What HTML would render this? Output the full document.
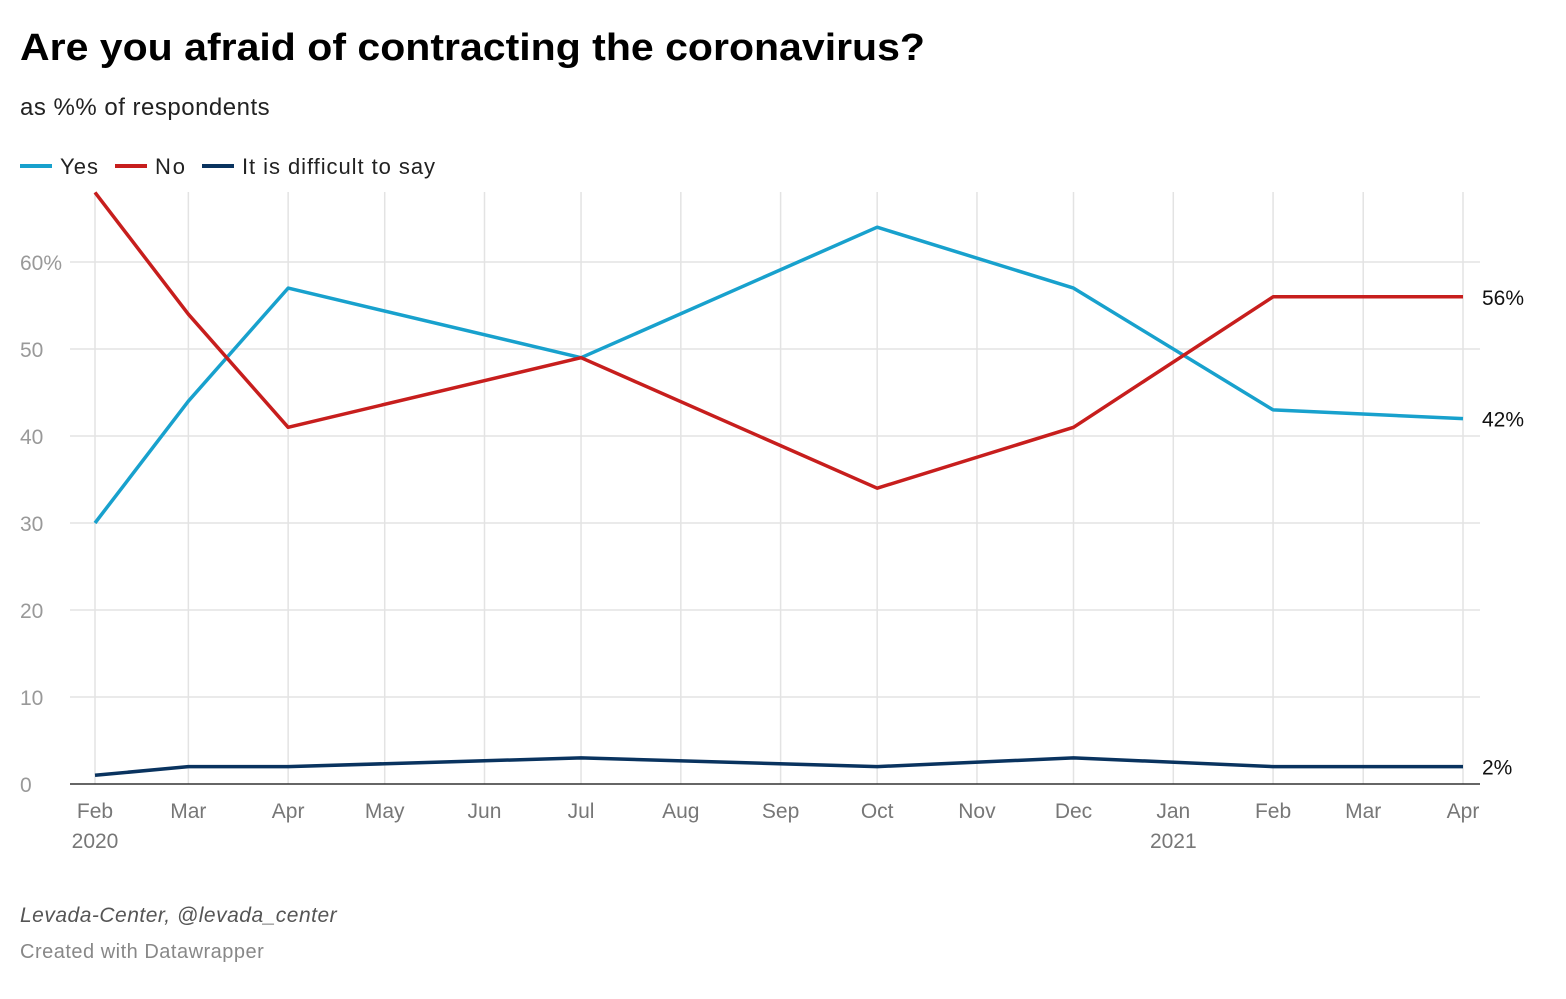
<!DOCTYPE html>
<html><head><meta charset="utf-8"><style>
body{margin:0;background:#fff;font-family:"Liberation Sans",sans-serif;}
svg text{font-family:"Liberation Sans",sans-serif;}
</style></head><body>
<svg id="c" width="1566" height="994" xmlns="http://www.w3.org/2000/svg">
<text x="20" y="60" font-size="38" font-weight="bold" fill="#000" textLength="905" lengthAdjust="spacingAndGlyphs">Are you afraid of contracting the coronavirus?</text>
<text x="20" y="115" font-size="24" fill="#222" letter-spacing="0.5">as %% of respondents</text>
<g>
<g><line x1="20" y1="166" x2="52" y2="166" stroke="#18a1cd" stroke-width="4"/><text x="60" y="174" font-size="22" fill="#222" textLength="38">Yes</text></g>
<g><line x1="115" y1="166" x2="147" y2="166" stroke="#c71e1d" stroke-width="4"/><text x="155" y="174" font-size="22" fill="#222" textLength="30">No</text></g>
<g><line x1="202" y1="166" x2="234" y2="166" stroke="#09335f" stroke-width="4"/><text x="242" y="174" font-size="22" fill="#222" textLength="193">It is difficult to say</text></g>
</g>
<g id="grid"></g>
<g id="plot"></g>
<text x="20" y="922" font-size="21" font-style="italic" fill="#555" letter-spacing="0.5">Levada-Center, @levada_center</text>
<text x="20" y="958" font-size="20" fill="#888" letter-spacing="0.5">Created with Datawrapper</text>
</svg>
<script>
const dates=["2020-02-01","2020-03-01","2020-04-01","2020-07-01","2020-10-01","2020-12-01","2021-02-01","2021-04-01"];
const yesVals=[30,44,57,49,64,57,43,42];
const noVals=[68,54,41,49,34,41,56,56];
const diffVals=[1,2,2,3,2,3,2,2];
const yTicks=[0,10,20,30,40,50,60];
const monthLabels=["Feb","Mar","Apr","May","Jun","Jul","Aug","Sep","Oct","Nov","Dec","Jan","Feb","Mar","Apr"];
const NS="http://www.w3.org/2000/svg";
const t0=Date.parse("2020-02-01"),t1=Date.parse("2021-04-01");
const X0=95,X1=1463;
function xs(d){return X0+(Date.parse(d)-t0)/(t1-t0)*(X1-X0);}
function ys(v){return 784-8.7*v;}
function mk(tag,attrs,parent){const e=document.createElementNS(NS,tag);for(const k in attrs)e.setAttribute(k,attrs[k]);parent.appendChild(e);return e;}
const grid=document.getElementById('grid'),plot=document.getElementById('plot');
yTicks.forEach(v=>{
  const y=ys(v);
  if(v>0){const l=mk('line',{x1:70,x2:1480,y1:y,y2:y,stroke:'#e3e3e3','stroke-width':1.5},grid);
  
  }
  const t=mk('text',{x:20,y:y+8,'font-size':21,fill:'#999'},grid);
  t.textContent=v===60?'60%':String(v);
  
  
});
monthLabels.forEach((m,i)=>{
  const yr=2020+Math.floor((i+1)/12);const mo=(i+1)%12+1;
  const d=yr+"-"+String(mo).padStart(2,'0')+"-01";
  const x=xs(d);
  const l=mk('line',{x1:x,x2:x,y1:192,y2:784,stroke:'#e3e3e3','stroke-width':1.5},grid);
  
  
  const t=mk('text',{x:x,y:818,'font-size':21,fill:'#777','text-anchor':'middle'},grid);
  t.textContent=m;
  
  
});
[["2020","2020-02-01"],["2021","2021-01-01"]].forEach(([s,d])=>{
  const t=mk('text',{x:xs(d),y:848,'font-size':21,fill:'#777','text-anchor':'middle'},grid);
  t.textContent=s;
  
  
});
const ax=mk('line',{x1:70,x2:1480,y1:784,y2:784,stroke:'#333','stroke-width':1.5},grid);


[[yesVals,'#18a1cd','yes-line'],[noVals,'#c71e1d','no-line'],[diffVals,'#09335f','difficult-line']].forEach(([vals,col,name])=>{
  const pts=vals.map((v,i)=>xs(dates[i])+","+ys(v)).join(" ");
  const p=mk('polyline',{points:pts,fill:'none',stroke:col,'stroke-width':3.5,'stroke-linejoin':'round'},plot);
  
  
  const last=vals[vals.length-1];
  const t=mk('text',{x:1482,y:ys(last)+8,'font-size':21,fill:'#111'},plot);
  t.textContent=last+'%';
  
  
});
</script>
</body></html>
